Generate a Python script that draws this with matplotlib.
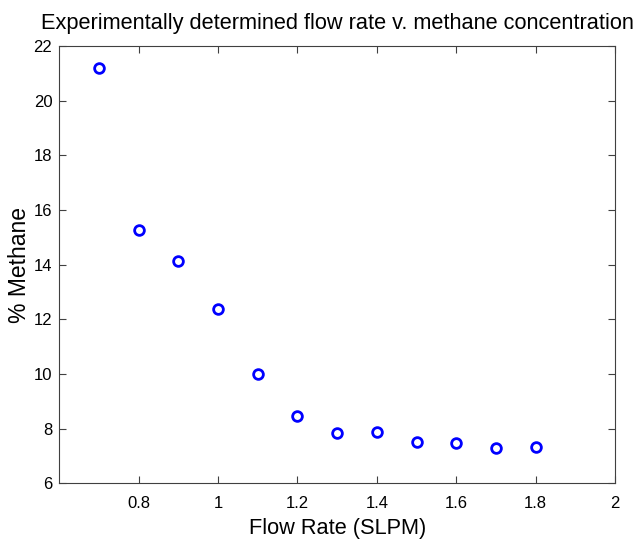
import matplotlib
matplotlib.use("Agg")
import matplotlib.pyplot as plt

# flow rate (SLPM) and measured methane (%)
flow_rate = [0.7, 0.8, 0.9, 1.0, 1.1, 1.2, 1.3, 1.4, 1.5, 1.6, 1.7, 1.8]
methane = [21.2, 15.27, 14.12, 12.36, 10.0, 8.47, 7.84, 7.88, 7.5, 7.49, 7.3, 7.32]

x_ticks = [0.8, 1.0, 1.2, 1.4, 1.6, 1.8, 2.0]
x_tick_labels = ["0.8", "1", "1.2", "1.4", "1.6", "1.8", "2"]
y_ticks = [6, 8, 10, 12, 14, 16, 18, 20, 22]

plt.rcParams["font.family"] = ["Liberation Sans", "DejaVu Sans"]

fig = plt.figure(figsize=(6.35, 5.4), dpi=100)
ax = fig.add_axes([0.0934, 0.105, 0.8751, 0.8098])

ax.plot(flow_rate, methane, "o", mfc="none", mec="#0000ff", mew=2, ms=7)

ax.set_xlim(0.6, 2.0)
ax.set_ylim(6, 22)
ax.set_xticks(x_ticks)
ax.set_xticklabels(x_tick_labels)
ax.set_yticks(y_ticks)
ax.tick_params(direction="in", top=True, right=True, length=5, width=0.8,
               labelsize=12, colors="#404040", labelcolor="black")
ax.tick_params(axis="x", pad=9)
ax.tick_params(axis="y", pad=5)
for s in ax.spines.values():
    s.set_color("#404040")
    s.set_linewidth(0.8)

ax.set_xlabel("Flow Rate (SLPM)", fontsize=15.7, labelpad=5)
ax.set_ylabel("% Methane", fontsize=16.5, labelpad=2)
ax.set_title("Experimentally determined flow rate v. methane concentration",
             fontsize=15.7, pad=12)

fig.savefig("out.png", dpi=100)
